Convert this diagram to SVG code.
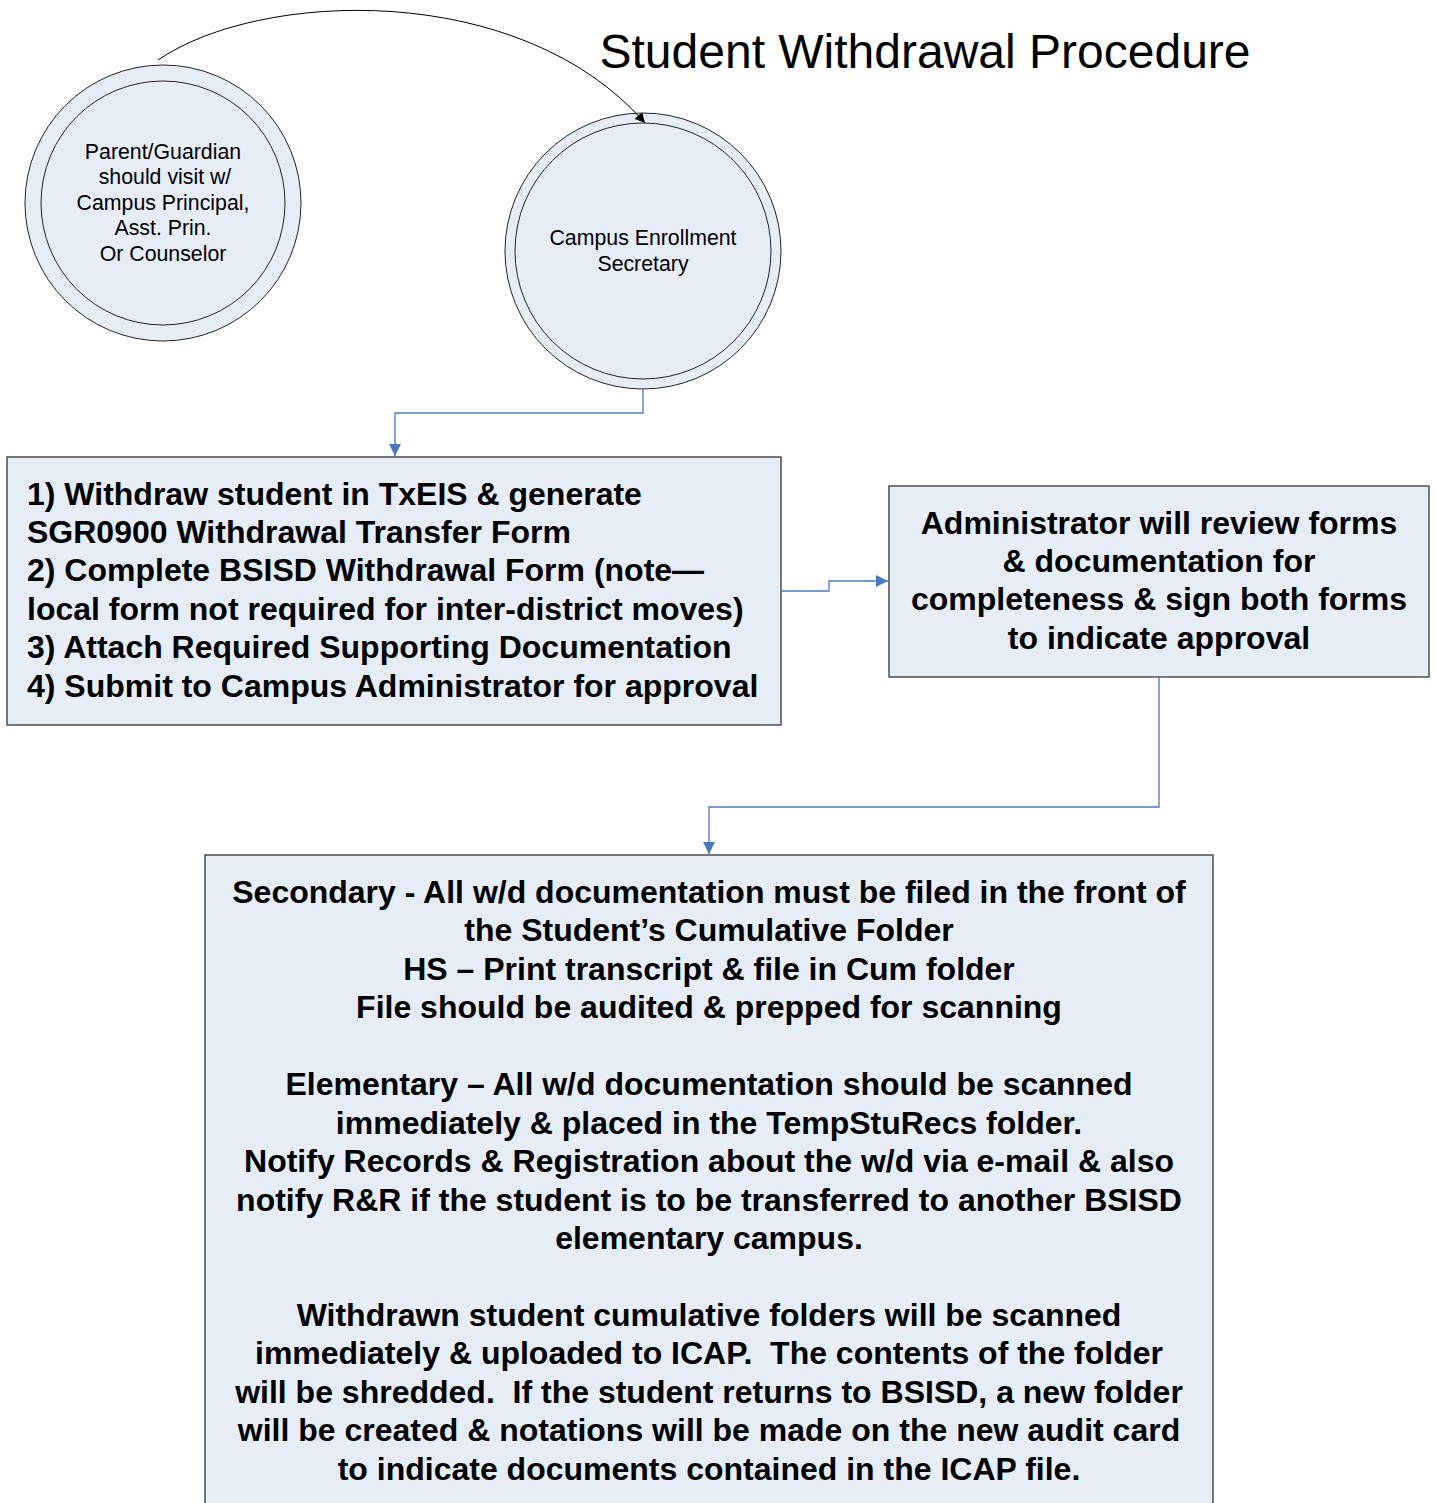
<svg xmlns="http://www.w3.org/2000/svg" width="1437" height="1503" viewBox="0 0 1437 1503">
<style>
.shape{fill:#e7edf7;stroke:#222;stroke-width:1}
.box{fill:#e7edf7;stroke:#333;stroke-width:1.3}
.ctext{font-family:"Liberation Sans",Arial,sans-serif;font-size:21.3px;fill:#000;text-anchor:middle}
.btext{font-family:"Liberation Sans",Arial,sans-serif;font-size:32px;font-weight:bold;fill:#000}
.mid{text-anchor:middle}
.conn{fill:none;stroke:#4a78c0;stroke-width:1.3}
</style>
<defs>
<marker id="blue" markerWidth="12" markerHeight="12" refX="10" refY="5" orient="auto" markerUnits="userSpaceOnUse" viewBox="0 0 10 10">
<path d="M0,0 L10,5 L0,10 z" fill="#4a78c0"/>
</marker>
<marker id="black" markerWidth="10" markerHeight="10" refX="10" refY="5" orient="auto" markerUnits="userSpaceOnUse" viewBox="0 0 10 10">
<path d="M0,0 L10,5 L0,10 z" fill="#000"/>
</marker>
</defs>
<rect width="1437" height="1503" fill="#fff"/>
<text x="925" y="68" font-family="'Liberation Sans',Arial,sans-serif" font-size="48" text-anchor="middle" fill="#000">Student Withdrawal Procedure</text>

<g id="node-parent">
<circle class="shape" cx="163" cy="203" r="138"/>
<circle class="shape" cx="163" cy="203" r="122"/>
<text class="ctext" x="163" y="159">Parent/Guardian</text>
<text class="ctext" x="165" y="184">should visit w/</text>
<text class="ctext" x="163" y="210">Campus Principal,</text>
<text class="ctext" x="163" y="235">Asst. Prin.</text>
<text class="ctext" x="163" y="261">Or Counselor</text>
</g>

<g id="node-secretary">
<circle class="shape" cx="643" cy="251" r="138"/>
<circle class="shape" cx="643" cy="251" r="128"/>
<text class="ctext" x="643" y="245">Campus Enrollment</text>
<text class="ctext" x="643" y="271">Secretary</text>
</g>

<g id="node-steps">
<rect class="box" x="7" y="457" width="774" height="268"/>
<text class="btext" x="27" y="505">1) Withdraw student in TxEIS &amp; generate</text>
<text class="btext" x="27" y="543">SGR0900 Withdrawal Transfer Form</text>
<text class="btext" x="27" y="581">2) Complete BSISD Withdrawal Form (note—</text>
<text class="btext" x="27" y="620">local form not required for inter-district moves)</text>
<text class="btext" x="27" y="658">3) Attach Required Supporting Documentation</text>
<text class="btext" x="27" y="697">4) Submit to Campus Administrator for approval</text>
</g>

<g id="node-admin">
<rect class="box" x="889" y="486" width="540" height="191"/>
<text class="btext mid" x="1159" y="534">Administrator will review forms</text>
<text class="btext mid" x="1159" y="572">&amp; documentation for</text>
<text class="btext mid" x="1159" y="610">completeness &amp; sign both forms</text>
<text class="btext mid" x="1159" y="649">to indicate approval</text>
</g>

<g id="node-filing">
<rect class="box" x="205" y="855" width="1008" height="660"/>
<text class="btext mid" x="709" y="903">Secondary - All w/d documentation must be filed in the front of</text>
<text class="btext mid" x="709" y="941">the Student’s Cumulative Folder</text>
<text class="btext mid" x="709" y="980">HS – Print transcript &amp; file in Cum folder</text>
<text class="btext mid" x="709" y="1018">File should be audited &amp; prepped for scanning</text>
<text class="btext mid" x="709" y="1095">Elementary – All w/d documentation should be scanned</text>
<text class="btext mid" x="709" y="1134">immediately &amp; placed in the TempStuRecs folder.</text>
<text class="btext mid" x="709" y="1172">Notify Records &amp; Registration about the w/d via e-mail &amp; also</text>
<text class="btext mid" x="709" y="1211">notify R&amp;R if the student is to be transferred to another BSISD</text>
<text class="btext mid" x="709" y="1249">elementary campus.</text>
<text class="btext mid" x="709" y="1326">Withdrawn student cumulative folders will be scanned</text>
<text class="btext mid" x="709" y="1364" xml:space="preserve">immediately &amp; uploaded to ICAP.  The contents of the folder</text>
<text class="btext mid" x="709" y="1403" xml:space="preserve">will be shredded.  If the student returns to BSISD, a new folder</text>
<text class="btext mid" x="709" y="1441">will be created &amp; notations will be made on the new audit card</text>
<text class="btext mid" x="709" y="1480">to indicate documents contained in the ICAP file.</text>
</g>

<g id="connectors">
<path d="M158,60 C260,-10 520,-20 645,123" fill="none" stroke="#000" stroke-width="1" marker-end="url(#black)"/>
<path class="conn" d="M643,389 V413 H395 V456" marker-end="url(#blue)"/>
<path class="conn" d="M781,591 H829 V581 H888" marker-end="url(#blue)"/>
<path class="conn" d="M1159,677 V807 H709 V854" marker-end="url(#blue)"/>
</g>
</svg>
